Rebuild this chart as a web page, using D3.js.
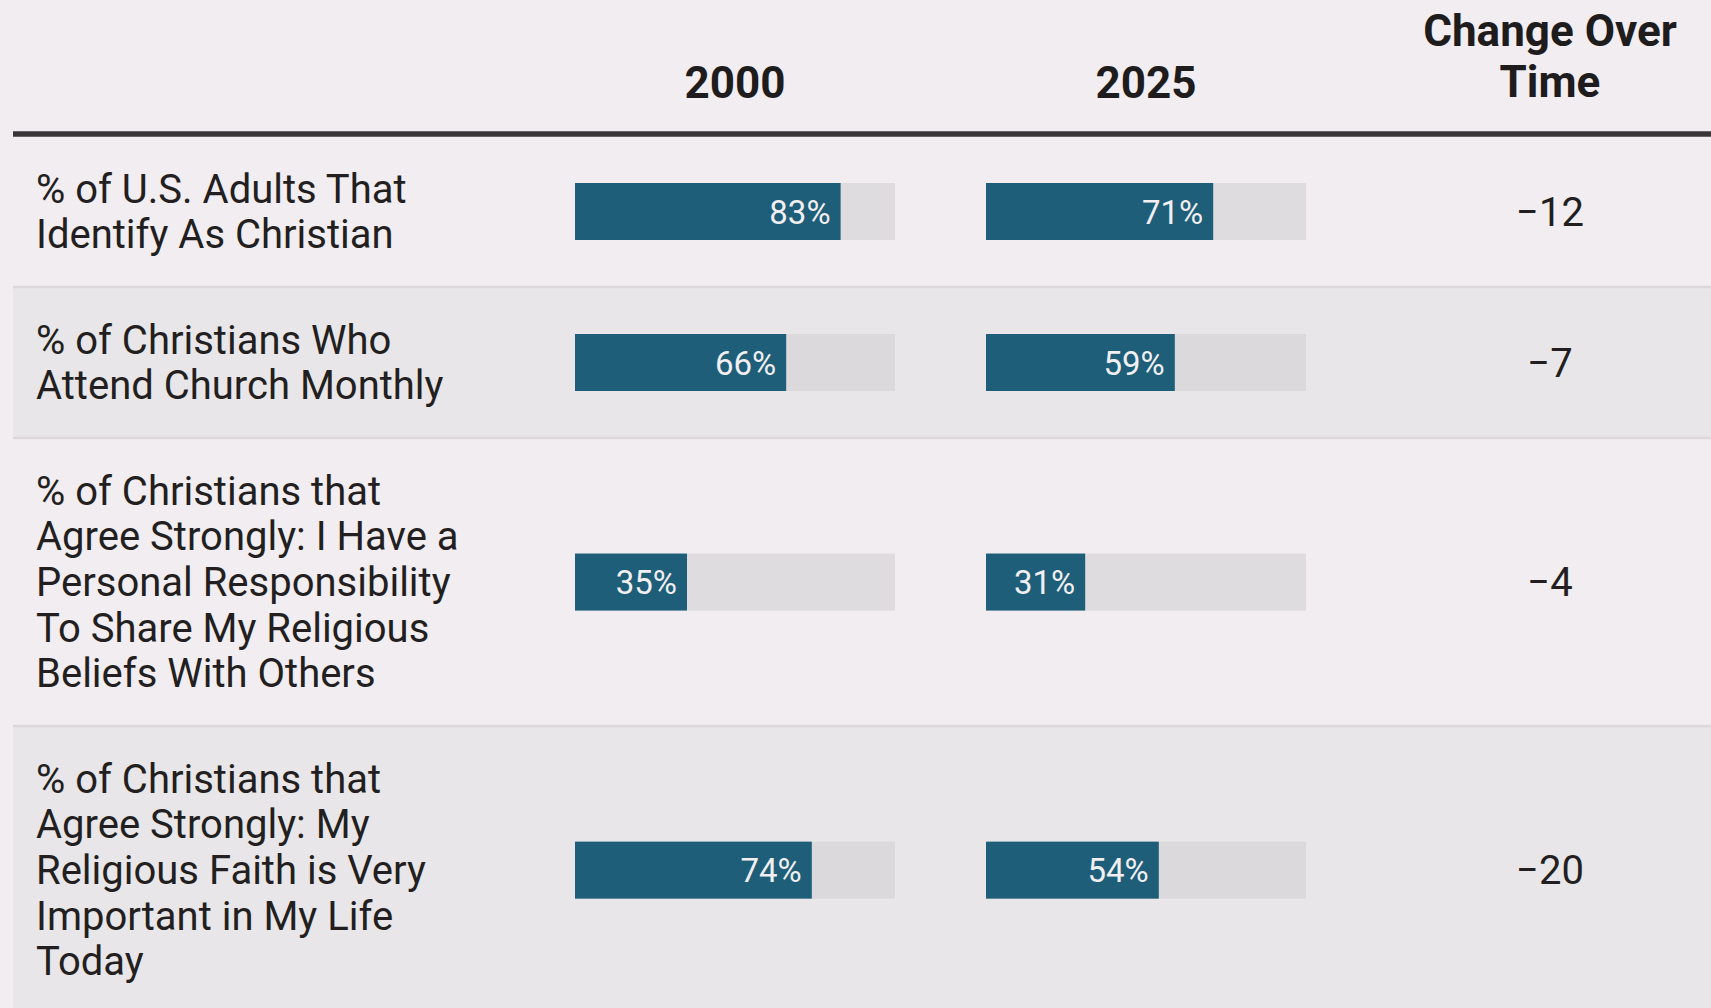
<!DOCTYPE html>
<html lang="en">
    <head>
        <meta charset="utf-8">
        <title>Christian identity 2000 vs 2025</title>
        <script type="text/javascript" src="https://cdn.jsdelivr.net/npm/d3@7"></script>
        <style type="text/css">
            html, body { margin: 0; padding: 0; background: #f1edf1; }
            svg { display: block; }
        </style>
    </head>
    <body>
        <script type="text/javascript">
            // Row labels, already broken into lines as in the original table
            var categories = [
                ["% of U.S. Adults That", "Identify As Christian"],
                ["% of Christians Who", "Attend Church Monthly"],
                ["% of Christians that", "Agree Strongly: I Have a", "Personal Responsibility", "To Share My Religious", "Beliefs With Others"],
                ["% of Christians that", "Agree Strongly: My", "Religious Faith is Very", "Important in My Life", "Today"]
            ];
            var years = ["2000", "2025"];
            var values2000 = [83, 66, 35, 74];
            var values2025 = [71, 59, 31, 54];
            var change = [-12, -7, -4, -20];
            var changeHeader = ["Change Over", "Time"];

            var w = 1711;
            var h = 1008;
            var left = 13;
            var ruleY = 134;
            var tableTop = 136;
            var lineH = 45.7;   // line height of the row labels
            var rowPad = 29.8;  // padding above and below the label block
            var barH = 57;

            var svg = d3.select("body")
                        .append("svg")
                        .attr("width", w)
                        .attr("height", h)
                        .style("font-family", "Roboto, 'Noto Sans', sans-serif");

            svg.append("rect")
                .attr("width", w)
                .attr("height", h)
                .attr("fill", "#f1edf1");

            // row heights depend on the number of label lines
            var rows = [];
            var y0 = tableTop;
            categories.forEach(function(lines, i) {
                var rh = lines.length * lineH + 2 * rowPad;
                rows.push({ i: i, lines: lines, top: y0, height: rh, mid: y0 + rh / 2,
                            v2000: values2000[i], v2025: values2025[i], change: change[i] });
                y0 += rh;
            });

            // one scale per year column
            var x2000 = d3.scaleLinear().domain([0, 100]).range([575, 895]);
            var x2025 = d3.scaleLinear().domain([0, 100]).range([986, 1306]);
            var xs = [x2000, x2025];
            var changeX = 1550;

            // ---- header ----
            svg.selectAll("text.year")
                .data(years)
                .enter()
                .append("text")
                .attr("class", "year")
                .attr("x", function(d, i) {
                    var r = xs[i].range();
                    return (r[0] + r[1]) / 2;
                })
                .attr("y", 98)
                .attr("text-anchor", "middle")
                .attr("font-size", "44px")
                .attr("font-weight", "bold")
                .attr("fill", "#1f1c1e")
                .text(function(d) { return d; });

            svg.selectAll("text.chghead")
                .data(changeHeader)
                .enter()
                .append("text")
                .attr("class", "chghead")
                .attr("x", changeX)
                .attr("y", function(d, i) { return 46 + i * 51; })
                .attr("text-anchor", "middle")
                .attr("font-size", "44px")
                .attr("font-weight", "bold")
                .attr("fill", "#1f1c1e")
                .text(function(d) { return d; });

            // ---- row backgrounds ----
            var row = svg.selectAll("g.row")
                .data(rows)
                .enter()
                .append("g")
                .attr("class", "row");

            row.append("rect")
                .attr("x", left)
                .attr("y", function(d) { return d.top; })
                .attr("width", w - left)
                .attr("height", function(d) { return d.height; })
                .attr("fill", function(d) { return d.i % 2 ? "#e8e6e8" : "#f1edf1"; });

            // separators between rows
            svg.selectAll("line.sep")
                .data(rows.slice(0, rows.length - 1))
                .enter()
                .append("line")
                .attr("class", "sep")
                .attr("x1", left)
                .attr("x2", w)
                .attr("y1", function(d) { return d.top + d.height; })
                .attr("y2", function(d) { return d.top + d.height; })
                .attr("stroke", "#dcd7db")
                .attr("stroke-width", 2.5);

            // thick rule under the header
            svg.append("line")
                .attr("x1", left)
                .attr("x2", w)
                .attr("y1", ruleY)
                .attr("y2", ruleY)
                .attr("stroke", "#3a3638")
                .attr("stroke-width", 5.5);

            // ---- row labels ----
            row.append("text")
                .attr("font-size", "40px")
                .attr("fill", "#231f21")
                .selectAll("tspan")
                .data(function(d) {
                    return d.lines.map(function(l, j) { return { text: l, y: d.top + rowPad + 36.7 + j * lineH }; });
                })
                .enter()
                .append("tspan")
                .attr("x", 36)
                .attr("y", function(d) { return d.y; })
                .text(function(d) { return d.text; });

            // ---- bars ----
            years.forEach(function(year, k) {
                var x = xs[k];
                var key = k === 0 ? "v2000" : "v2025";

                // grey track (full 100%)
                row.append("rect")
                    .attr("x", x(0))
                    .attr("y", function(d) { return d.mid - barH / 2; })
                    .attr("width", x(100) - x(0))
                    .attr("height", barH)
                    .attr("fill", "#d0ced0")
                    .attr("fill-opacity", 0.56);

                row.append("rect")
                    .attr("x", x(0))
                    .attr("y", function(d) { return d.mid - barH / 2; })
                    .attr("width", function(d) { return x(d[key]) - x(0); })
                    .attr("height", barH)
                    .attr("fill", "#1e5e78");

                row.append("text")
                    .attr("x", function(d) { return x(d[key]) - 10; })
                    .attr("y", function(d) { return d.mid + 12; })
                    .attr("text-anchor", "end")
                    .attr("font-size", "33px")
                    .attr("fill", "#f2eff2")
                    .text(function(d) { return d[key] + "%"; });
            });

            // ---- change column ----
            var fmt = d3.format("d");   // d3 v7 uses the real minus sign
            row.append("text")
                .attr("x", changeX)
                .attr("y", function(d) { return d.mid + 14; })
                .attr("text-anchor", "middle")
                .attr("font-size", "40px")
                .attr("fill", "#231f21")
                .text(function(d) { return fmt(d.change); });
        </script>
    </body>
</html>
